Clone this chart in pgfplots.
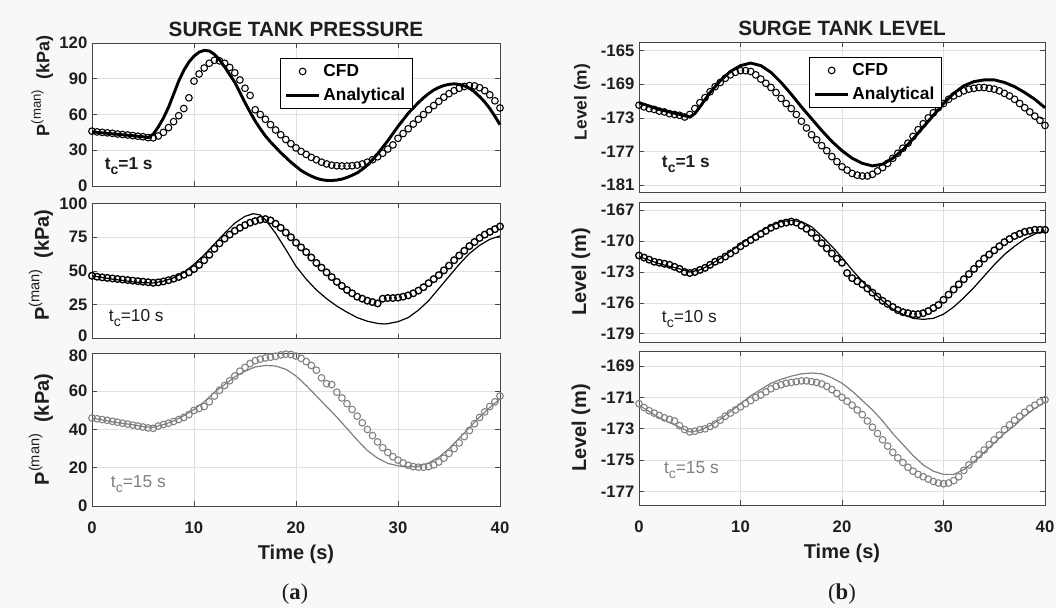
\documentclass[border=0pt]{standalone}
\usepackage{pgfplots}
\pgfplotsset{compat=1.18}
\usepackage{fontspec}
\setmainfont{Liberation Sans}
\newfontfamily\capfont{Liberation Serif}

\definecolor{figbg}{RGB}{248,248,248}
\definecolor{axcol}{RGB}{70,70,70}
\definecolor{gridcol}{RGB}{224,224,224}
\definecolor{txtcol}{RGB}{30,30,30}
\definecolor{lgray}{RGB}{128,128,128}

\newcommand{\tickfont}{\bfseries\fontsize{12.5}{14}\selectfont}
\newcommand{\labfont}{\bfseries\fontsize{15}{17}\selectfont}
% closure time label: t with a lowered c
\newcommand{\tc}{t\raisebox{-0.55ex}{\fontsize{10.5}{11}\selectfont c}}

\pgfplotsset{
  panel/.style={
    scale only axis, xmin=0, xmax=40, xtick={0,10,20,30,40},
    grid=major, major grid style={draw=gridcol, line width=0.5pt},
    axis line style={draw=axcol, line width=0.6pt},
    tick style={draw=axcol, line width=0.5pt},
    major tick length=3.5pt, tick align=inside,
    clip=false, axis background/.style={fill=white},
    ticklabel style={font=\tickfont, text=txtcol},
    yticklabel style={inner ysep=0pt},
    xticklabel style={yshift=-8.5pt},
    /pgf/number format/assume math mode=true,
    label style={font=\labfont, text=txtcol},
    title style={font=\bfseries\fontsize{15.5}{17}\selectfont, text=txtcol, yshift=-5pt},
    legend image code/.code={\draw[mark repeat=2,mark phase=2,#1] plot coordinates {(0pt,0pt)(12.5pt,0pt)(25pt,0pt)};},
    legend style={draw=black, line width=0.6pt, fill=white, font=\bfseries\fontsize{13}{15}\selectfont,
      inner xsep=3pt, inner ysep=2.5pt, row sep=3pt, cells={anchor=west}, anchor=north west},
  },
  leftpanel/.style={panel, width=306pt, ylabel style={at={(axis description cs:-0.125,0.5)}, anchor=center},
    ylabel={\textbf{P}\raisebox{0.9ex}{\mdseries\fontsize{0.73em}{1em}\selectfont(man)}\textbf{\ \ (kPa)}}},
  rightpanel/.style={panel, width=304.5pt, ylabel style={at={(axis description cs:-0.143,0.5)}, anchor=center},
    ylabel={Level (m)}},
  notime/.style={xticklabels={}},
  timeaxis/.style={xlabel={Time (s)}, xlabel style={at={(axis description cs:0.5,-0.315)}, anchor=center}},
  cfd/.style={only marks, mark=o, mark size=2.5pt, mark options={line width=0.8pt}},
}

\begin{document}
\begin{tikzpicture}
\path[use as bounding box, fill=figbg] (0,0) rectangle (792pt,456pt);

% ---------------- (a) surge tank pressure ----------------
\begin{axis}[leftpanel, notime, at={(69pt,316.5pt)}, height=107.25pt,
  ymin=0, ymax=120, ytick={0,30,60,90,120},
  ylabel style={at={(axis description cs:-0.122,0.7)}, font=\bfseries\fontsize{13.5}{15}\selectfont},
  title={SURGE TANK PRESSURE},
  legend style={at={(0.461,0.895)}}]
\addplot[cfd, black] table {
t v
0 46
0.5 45.4
1 45
1.5 44.6
2 44.2
2.5 43.6
3 43.2
3.5 42.8
4 42.3
4.5 41.8
5 41.3
5.5 40.6
6 40.4
6.5 42
7 45
7.5 49
8 54
8.5 59
9 65
9.5 74
10 88
10.5 94
11 99
11.5 103
12 105.5
12.5 105
13 103
13.5 99.5
14 95
14.5 89
15 82
15.5 76
16 64
16.5 60
17 56
17.5 51.5
18 47
18.5 43
19 39
19.5 35.5
20 32
20.5 29
21 26.5
21.5 24
22 22
22.5 20
23 18.5
23.5 17.5
24 17
24.5 16.8
25 16.8
25.5 17
26 17.5
26.5 18.5
27 20
27.5 22
28 24.5
28.5 27.5
29 31
29.5 34.5
30 40
30.5 44
31 48
31.5 52
32 56
32.5 60
33 64
33.5 67.5
34 71
34.5 74.5
35 77.5
35.5 80
36 82
36.5 83.5
37 84.3
37.5 84
38 82.5
38.5 80
39 76.5
39.5 71.5
40 65.5
};
\addlegendentry{CFD}
\addplot[black, line width=2.2pt] table {
t v
0 45.5
1 44.6
2 43.8
3 43
4 42.2
5 41.3
5.5 40.6
6 43.5
6.5 49.5
7 57
7.5 66
8 77
8.5 88
9 97
9.5 104
10 109
10.5 112.3
11 113.8
11.5 113.3
12 110.5
12.5 106
13 100
13.5 93.5
14 87
14.5 78.5
15 70
15.5 62
16 54.5
16.5 48
17 42
17.5 37
18 32.5
18.5 28
19 24
19.5 20
20 16.5
20.5 13
21 10.5
21.5 8.3
22 6.5
22.5 5.3
23 4.7
23.5 4.6
24 5
24.5 5.8
25 7.2
25.5 9
26 11
26.5 14
27 17.5
27.5 22
28 27
28.5 32.5
29 38
29.5 44
30 50
30.5 55.5
31 61
31.5 65.5
32 70
32.5 74
33 77.5
33.5 80.5
34 82.7
34.5 84.3
35 85.3
35.5 85.7
36 85.3
36.5 84
37 82
37.5 79
38 75
38.5 70.5
39 65
39.5 58.5
40 51.5
};
\addlegendentry{Analytical}
\node[anchor=west, font=\bfseries\fontsize{13}{15}\selectfont, text=txtcol] at (rel axis cs:0.02,0.14) {\tc=1 s};
\end{axis}

\begin{axis}[leftpanel, notime, at={(69pt,202.1pt)}, height=101.25pt,
  ymin=0, ymax=100, ytick={0,25,50,75,100},
  yticklabels={\raisebox{2pt}[\height][\depth]{0},25,50,75,100},
  ylabel style={at={(axis description cs:-0.125,0.544)}}]
\addplot[cfd, black, mark options={line width=1pt}] table {
t v
0 46.5
0.5 45.8
1 45.3
1.5 44.9
2 44.5
2.5 44.1
3 43.7
3.5 43.3
4 42.9
4.5 42.5
5 42.1
5.5 41.7
6 41.3
6.5 41.6
7 42.3
7.5 43.2
8 44.3
8.5 45.6
9 47.2
9.5 49
10 51.5
10.5 54.5
11 58
11.5 62
12 66.5
12.5 70.5
13 74
13.5 77
14 79.8
14.5 82
15 84
15.5 85.8
16 87
16.5 88
17 88.5
17.5 87.5
18 85
18.5 82
19 78.5
19.5 75
20 71
20.5 67.5
21 64
21.5 60
22 56
22.5 52.5
23 49
23.5 45.5
24 42
24.5 39
25 36
25.5 33.5
26 31
26.5 29.5
27 28
27.5 27
28 26
28.5 29.5
29 30
29.5 30
30 30.3
30.5 31
31 32
31.5 33.5
32 35.5
32.5 38
33 41
33.5 44
34 47
34.5 50.5
35 54
35.5 58
36 61.5
36.5 65
37 68.5
37.5 71.5
38 74.5
38.5 77
39 79
39.5 81
40 83
};
\addplot[black, line width=0.9pt] table {
t v
0 46.5
2 44
4 42
5 41.3
6 41.2
7 42.5
8 45
9 49
10 55
11 62
12 70
13 78
14 85.5
15 90.5
15.8 92.5
16.5 91.5
17 88
18 78
19 66
20 53.5
21 44
22 36
23 29.5
24 24
25 19.5
26 15.5
27 12.8
28 11.2
28.6 10.8
29 11
30 12.5
31 15.5
32 21
33 28
34 37
35 46
36 55
37 63
38 69
39 73.5
40 76
};
\node[anchor=west, font=\fontsize{13}{15}\selectfont, text=txtcol] at (rel axis cs:0.03,0.15) {\tc=10 s};
\end{axis}

\begin{axis}[leftpanel, timeaxis, at={(69pt,76.5pt)}, height=114.75pt,
  ymin=0, ymax=80, ytick={0,20,40,60,80},
  yticklabels={0,20,40,60,\raisebox{-2pt}[\height][\depth]{80}}]
\addplot[cfd, lgray] table {
t v
0 46
0.5 45.6
1 45.2
1.5 44.8
2 44.3
2.5 43.8
3 43.3
3.5 42.8
4 42.3
4.5 41.8
5 41.3
5.5 40.8
6 40.6
6.5 41.8
7 42.6
7.5 43.3
8 44.2
8.5 45.2
9 46.3
9.5 47.8
10 50
10.5 51
11 52
11.5 54.5
12 57.5
12.5 60.5
13 63
13.5 65.5
14 68
14.5 70.5
15 72.5
15.5 74.5
16 76
16.5 76.8
17 77.4
17.5 77.8
18 78.3
18.5 79
19 79.4
19.5 79.2
20 78.4
20.5 77.2
21 75.5
21.5 73.5
22 71
22.5 67
23 64
23.5 63.5
24 59.5
24.5 56.5
25 53.5
25.5 50.5
26 47
26.5 43.5
27 40
27.5 36.8
28 33.5
28.5 30.5
29 28
29.5 25.8
30 24
30.5 22.5
31 21.3
31.5 20.6
32 20.3
32.5 20.3
33 20.6
33.5 21.5
34 23
34.5 25
35 27.5
35.5 30
36 33
36.5 36.3
37 39.5
37.5 43
38 46.3
38.5 49.2
39 52
39.5 54.5
40 57.5
};
\addplot[lgray, line width=0.9pt] table {
t v
0 46
2 44
4 42.5
5 41.5
6 41.2
7 42.5
8 44.5
9 47.2
10 50.5
11 54.5
12 59.5
13 63.5
14 67.5
15 70.5
16 72.7
17 73.5
18 73.2
19 71.5
20 68
21 63
22 57.5
23 52
24 46.5
25 40.5
26 34.5
27 29
28 25
29 22.3
30 21
31 20.5
32 20.8
33 22.5
34 25.5
35 30
36 35.5
37 41
38 46.5
39 51.5
40 56
};
\node[anchor=west, font=\fontsize{13}{15}\selectfont, text=lgray] at (rel axis cs:0.035,0.14) {\tc=15 s};
\end{axis}

% ---------------- (b) surge tank level ----------------
\begin{axis}[rightpanel, notime, at={(479.25pt,312pt)}, height=112.5pt,
  ymin=-181.8, ymax=-164, ytick={-181,-177,-173,-169,-165},
  ylabel style={at={(axis description cs:-0.14,0.6)}, font=\bfseries\fontsize{13}{15}\selectfont},
  title={SURGE TANK LEVEL},
  legend style={at={(0.419,0.9)}}]
\addplot[cfd, black] table {
t v
0 -171.5
0.5 -171.7
1 -171.9
1.5 -172
2 -172.2
2.5 -172.3
3 -172.5
3.5 -172.6
4 -172.7
4.5 -172.9
5 -172.6
5.5 -171.9
6 -171.2
6.5 -170.6
7 -169.9
7.5 -169.3
8 -168.8
8.5 -168.3
9 -167.9
9.5 -167.6
10 -167.4
10.5 -167.4
11 -167.5
11.5 -167.9
12 -168.4
12.5 -168.9
13 -169.4
13.5 -170
14 -170.7
14.5 -171.3
15 -171.9
15.5 -172.6
16 -173.4
16.5 -174.2
17 -175
17.5 -175.6
18 -176.3
18.5 -176.9
19 -177.6
19.5 -178.2
20 -178.8
20.5 -179.2
21 -179.6
21.5 -179.8
22 -179.9
22.5 -179.9
23 -179.7
23.5 -179.3
24 -178.9
24.5 -178.4
25 -177.8
25.5 -177.2
26 -176.6
26.5 -176
27 -175.2
27.5 -174.4
28 -173.7
28.5 -173
29 -172.4
29.5 -171.8
30 -171.3
30.5 -170.8
31 -170.4
31.5 -170.1
32 -169.8
32.5 -169.6
33 -169.5
33.5 -169.4
34 -169.4
34.5 -169.5
35 -169.6
35.5 -169.8
36 -170.1
36.5 -170.4
37 -170.8
37.5 -171.3
38 -171.8
38.5 -172.3
39 -172.8
39.5 -173.3
40 -173.9
};
\addlegendentry{CFD}
\addplot[black, line width=2.2pt] table {
t v
0 -171.2
1 -171.6
2 -172
3 -172.3
4 -172.6
5 -172.9
5.5 -172.5
6 -171.7
7 -170
8 -168.6
9 -167.5
10 -166.8
11 -166.5
12 -166.8
13 -167.6
14 -168.8
15 -170.2
16 -171.7
17 -173.1
18 -174.5
19 -175.8
20 -176.9
21 -177.8
22 -178.4
23 -178.7
24 -178.5
25 -177.8
26 -176.8
27 -175.5
28 -174.1
29 -172.7
30 -171.3
31 -170.1
32 -169.2
33 -168.7
34 -168.5
35 -168.5
36 -168.8
37 -169.3
38 -170
39 -170.8
40 -171.8
};
\addlegendentry{Analytical}
\node[anchor=west, font=\bfseries\fontsize{13}{15}\selectfont, text=txtcol] at (rel axis cs:0.045,0.185) {\tc=1 s};
\end{axis}

\begin{axis}[rightpanel, notime, at={(479.25pt,199.5pt)}, height=105pt,
  ymin=-179.8, ymax=-166.2, ytick={-179,-176,-173,-170,-167}]
\addplot[cfd, black, mark options={line width=1pt}] table {
t v
0 -171.4
0.5 -171.6
1 -171.8
1.5 -172
2 -172.1
2.5 -172.2
3 -172.3
3.5 -172.5
4 -172.7
4.5 -173
5 -173.1
5.5 -173
6 -172.8
6.5 -172.6
7 -172.3
7.5 -172
8 -171.8
8.5 -171.5
9 -171.2
9.5 -170.9
10 -170.5
10.5 -170.2
11 -169.9
11.5 -169.6
12 -169.3
12.5 -169
13 -168.7
13.5 -168.5
14 -168.3
14.5 -168.2
15 -168.1
15.5 -168.2
16 -168.5
16.5 -168.8
17 -169.2
17.5 -169.7
18 -170.2
18.5 -170.7
19 -171.2
19.5 -171.7
20 -172.1
20.5 -173.1
21 -173.6
21.5 -173.9
22 -174.2
22.5 -174.6
23 -175
23.5 -175.4
24 -175.8
24.5 -176.1
25 -176.4
25.5 -176.7
26 -176.9
26.5 -177
27 -177.1
27.5 -177.1
28 -177
28.5 -176.8
29 -176.5
29.5 -176.2
30 -175.7
30.5 -175.2
31 -174.7
31.5 -174.2
32 -173.7
32.5 -173.2
33 -172.7
33.5 -172.2
34 -171.7
34.5 -171.3
35 -170.9
35.5 -170.5
36 -170.1
36.5 -169.8
37 -169.5
37.5 -169.3
38 -169.1
38.5 -169
39 -168.9
39.5 -168.9
40 -168.9
};
\addplot[black, line width=0.9pt] table {
t v
0 -171.5
2 -172.2
4 -172.7
5 -173
6 -172.8
7 -172.3
8 -171.7
9 -171
10 -170.3
11 -169.6
12 -169
13 -168.5
14 -168.1
15 -168
16 -168.1
17 -168.6
18 -169.5
19 -170.5
20 -171.6
21 -172.8
22 -173.9
23 -174.9
24 -175.8
25 -176.6
26 -177.1
27 -177.5
28 -177.6
29 -177.5
30 -177.1
31 -176.4
32 -175.5
33 -174.5
34 -173.4
35 -172.3
36 -171.3
37 -170.5
38 -169.8
39 -169.3
40 -169
};
\node[anchor=west, font=\fontsize{13}{15}\selectfont, text=txtcol] at (rel axis cs:0.045,0.165) {\tc=10 s};
\end{axis}

\begin{axis}[rightpanel, timeaxis, at={(479.25pt,77.25pt)}, height=115.5pt,
  ymin=-177.85, ymax=-168.05, ytick={-177,-175,-173,-171,-169}]
\addplot[cfd, lgray] table {
t v
0 -171.4
0.5 -171.65
1 -171.85
1.5 -172
2 -172.15
2.5 -172.3
3 -172.4
3.5 -172.5
4 -172.8
4.5 -173.05
5 -173.2
5.5 -173.15
6 -173.05
6.5 -173
7 -172.85
7.5 -172.7
8 -172.45
8.5 -172.2
9 -172
9.5 -171.8
10 -171.6
10.5 -171.4
11 -171.2
11.5 -171
12 -170.85
12.5 -170.65
13 -170.45
13.5 -170.3
14 -170.2
14.5 -170.1
15 -170.05
15.5 -170
16 -169.95
16.5 -169.95
17 -170
17.5 -170.05
18 -170.15
18.5 -170.3
19 -170.5
19.5 -170.75
20 -171
20.5 -171.25
21 -171.5
21.5 -171.8
22 -172.1
22.5 -172.5
23 -172.9
23.5 -173.3
24 -173.7
24.5 -174.1
25 -174.5
25.5 -174.85
26 -175.15
26.5 -175.45
27 -175.7
27.5 -175.9
28 -176.05
28.5 -176.2
29 -176.35
29.5 -176.45
30 -176.5
30.5 -176.45
31 -176.3
31.5 -176.05
32 -175.65
32.5 -175.3
33 -174.95
33.5 -174.65
34 -174.35
34.5 -174
35 -173.7
35.5 -173.4
36 -173.05
36.5 -172.75
37 -172.45
37.5 -172.2
38 -171.95
38.5 -171.7
39 -171.5
39.5 -171.3
40 -171.15
};
\addplot[lgray, line width=0.9pt] table {
t v
0 -171.5
1 -171.9
2 -172.3
3 -172.6
4 -172.9
5 -173.2
6 -173.1
7 -172.8
8 -172.4
9 -171.9
10 -171.4
11 -170.9
12 -170.5
13 -170.1
14 -169.85
15 -169.65
16 -169.5
17 -169.45
18 -169.5
19 -169.75
20 -170.1
21 -170.6
22 -171.2
23 -171.8
24 -172.5
25 -173.3
26 -174
27 -174.7
28 -175.3
29 -175.7
30 -175.9
31 -175.9
32 -175.6
33 -175.1
34 -174.5
35 -173.9
36 -173.3
37 -172.8
38 -172.2
39 -171.7
40 -171.3
};
\node[anchor=west, font=\fontsize{13}{15}\selectfont, text=lgray] at (rel axis cs:0.05,0.225) {\tc=15 s};
\end{axis}

% sub-figure captions
\node[font=\capfont\fontsize{17}{19}\selectfont, text=txtcol] at (221.25pt,10.5pt) {(\textbf{a})};
\node[font=\capfont\fontsize{17}{19}\selectfont, text=txtcol] at (631.5pt,10.5pt) {(\textbf{b})};
\end{tikzpicture}
\end{document}
